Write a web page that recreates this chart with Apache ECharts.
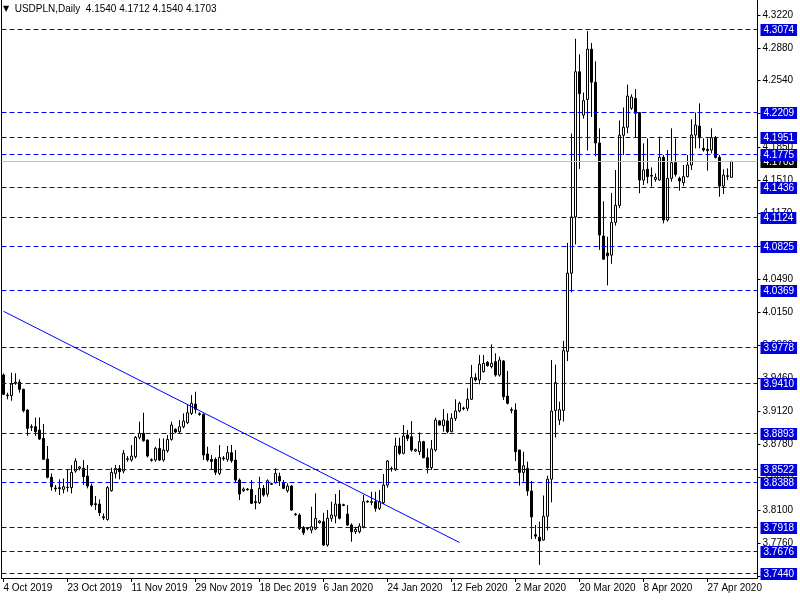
<!DOCTYPE html>
<html><head><meta charset="utf-8">
<script src="https://cdn.jsdelivr.net/npm/echarts@6/dist/echarts.min.js"></script>
<style>html,body{margin:0;padding:0;background:#fff}#c{width:800px;height:600px}</style>
</head><body><div id="c"></div>
<script>
// ---- data (daily bars incl. Sunday bars, 4 Oct 2019 .. 4 May 2020) ----
const opens = [
3.9496,3.9290,3.9282,3.9410,3.9423,3.9348,3.9134,3.8962,3.8962,3.8927,
3.8841,3.8627,3.8438,3.8327,3.8331,3.8314,3.8335,3.8331,3.8503,3.8530,
3.8531,3.8451,3.8348,3.8165,3.8162,3.8030,3.8003,3.8300,3.8479,3.8530,
3.8503,3.8630,3.8617,3.8651,3.8851,3.8893,3.8823,3.8620,3.8617,3.8737,
3.8617,3.8713,3.8830,3.8934,3.8910,3.8961,3.9003,3.9099,3.9196,3.9096,
3.9089,3.8679,3.8624,3.8624,3.8479,3.8637,3.8624,3.8693,3.8617,3.8410,
3.8300,3.8317,3.8313,3.8186,3.8176,3.8324,3.8265,3.8365,3.8382,3.8448,
3.8382,3.8300,3.8348,3.8058,3.8048,3.7920,3.7910,3.7893,3.7903,3.7969,
3.7979,3.7738,3.8014,3.8038,3.8162,3.8155,3.8058,3.7945,3.7876,3.7876,
3.7927,3.8190,3.8186,3.8186,3.8117,3.8176,3.8358,3.8530,3.8524,3.8762,
3.8686,3.8876,3.8858,3.8710,3.8703,3.8807,3.8641,3.8538,3.8721,3.9021,
3.8972,3.9021,3.8910,3.9048,3.9124,3.9155,3.9152,3.9245,3.9469,3.9445,
3.9531,3.9627,3.9583,3.9634,3.9496,3.9641,3.9279,3.9138,3.9134,3.8721,
3.8489,3.8530,3.8297,3.7845,3.7819,3.7790,3.8035,3.8419,3.9130,3.9030,
3.9130,3.9741,4.0549,4.1131,4.2632,4.2183,4.2345,4.2866,4.2524,4.1896,
4.0933,4.0757,4.0736,4.1074,4.1250,4.1975,4.2058,4.2255,4.2357,4.2209,
4.1512,4.1623,4.1560,4.1519,4.1513,4.1747,4.1099,4.1530,4.1692,4.1530,
4.1485,4.1547,4.1668,4.1978,4.2071,4.1840,4.1830,4.1823,4.1950,4.1747,
4.1450,4.1550,4.1540];
const closes = [
3.9296,3.9283,3.9403,3.9420,3.9348,3.9127,3.8944,3.8955,3.8910,3.8834,
3.8624,3.8438,3.8341,3.8320,3.8321,3.8341,3.8333,3.8489,3.8606,3.8545,
3.8445,3.8348,3.8152,3.8155,3.8072,3.8020,3.8331,3.8489,3.8530,3.8496,
3.8686,3.8624,3.8658,3.8851,3.8893,3.8817,3.8658,3.8614,3.8737,3.8617,
3.8720,3.8830,3.8979,3.8906,3.8961,3.9020,3.9106,3.9203,3.9141,3.9089,
3.8668,3.8617,3.8603,3.8490,3.8644,3.8630,3.8693,3.8610,3.8410,3.8265,
3.8317,3.8310,3.8169,3.8176,3.8324,3.8255,3.8403,3.8372,3.8479,3.8400,
3.8324,3.8348,3.8100,3.8052,3.7910,3.7865,3.7907,3.7927,3.8014,3.7986,
3.7738,3.8014,3.8048,3.8162,3.8014,3.8148,3.7945,3.7876,3.7900,3.7934,
3.8186,3.8183,3.8180,3.8117,3.8186,3.8358,3.8607,3.8524,3.8762,3.8686,
3.8865,3.8841,3.8720,3.8724,3.8807,3.8641,3.8538,3.8731,3.9031,3.8979,
3.9031,3.8910,3.9048,3.9124,3.9203,3.9149,3.9245,3.9469,3.9445,3.9607,
3.9617,3.9593,3.9617,3.9496,3.9651,3.9272,3.9203,3.9131,3.8703,3.8489,
3.8558,3.8297,3.8028,3.7830,3.7780,3.8035,3.8419,3.9123,3.9417,3.9137,
3.9748,4.0549,4.1131,4.2632,4.2406,4.2334,4.2866,4.2524,4.1896,4.0944,
4.0693,4.0729,4.1074,4.1250,4.1975,4.2058,4.2381,4.2370,4.2202,4.1512,
4.1616,4.1547,4.1553,4.1540,4.1747,4.1099,4.1530,4.1692,4.1571,4.1502,
4.1547,4.1668,4.1978,4.2081,4.1950,4.1823,4.1816,4.1950,4.1747,4.1450,
4.1564,4.1557,4.1703];
const lows = [
3.9289,3.9244,3.9230,3.9395,3.9313,3.9110,3.8868,3.8917,3.8868,3.8824,
3.8617,3.8427,3.8300,3.8289,3.8255,3.8272,3.8289,3.8272,3.8486,3.8510,
3.8358,3.8324,3.8134,3.8100,3.8038,3.7996,3.7990,3.8290,3.8427,3.8417,
3.8479,3.8600,3.8600,3.8634,3.8830,3.8806,3.8644,3.8600,3.8600,3.8606,
3.8600,3.8693,3.8817,3.8893,3.8893,3.8944,3.8989,3.9082,3.9099,3.9075,
3.8617,3.8600,3.8513,3.8462,3.8462,3.8610,3.8600,3.8589,3.8382,3.8203,
3.8286,3.8300,3.8162,3.8107,3.8162,3.8238,3.8238,3.8358,3.8375,3.8348,
3.8314,3.8279,3.8093,3.8040,3.7893,3.7841,3.7890,3.7859,3.7893,3.7960,
3.7728,3.7721,3.7979,3.7962,3.8003,3.8140,3.7934,3.7772,3.7852,3.7859,
3.7910,3.8176,3.8151,3.8083,3.8100,3.8162,3.8331,3.8497,3.8503,3.8669,
3.8676,3.8814,3.8703,3.8700,3.8669,3.8634,3.8479,3.8514,3.8703,3.8972,
3.8910,3.8893,3.8903,3.9021,3.9110,3.9131,3.9124,3.9238,3.9427,3.9400,
3.9521,3.9583,3.9565,3.9479,3.9479,3.9238,3.9193,3.9100,3.8607,3.8352,
3.8393,3.8248,3.7800,3.7801,3.7532,3.7783,3.7890,3.8179,3.8850,3.8980,
3.9015,3.9640,4.0351,4.0847,4.1627,4.2147,4.1817,4.2165,4.1759,4.0790,
4.0690,4.0423,4.0646,4.1041,4.1221,4.1770,4.1996,4.2237,4.1955,4.1375,
4.1461,4.1478,4.1444,4.1495,4.1506,4.1064,4.1082,4.1495,4.1547,4.1402,
4.1450,4.1540,4.1616,4.1840,4.1840,4.1806,4.1609,4.1788,4.1737,4.1340,
4.1368,4.1513,4.1540];
const highs = [
3.9513,3.9313,3.9520,3.9513,3.9451,3.9355,3.9141,3.8986,3.9055,3.9058,
3.8989,3.8762,3.8479,3.8358,3.8417,3.8427,3.8520,3.8565,3.8634,3.8555,
3.8617,3.8565,3.8375,3.8245,3.8210,3.8065,3.8348,3.8537,3.8565,3.8565,
3.8720,3.8658,3.8772,3.8865,3.9013,3.9106,3.8830,3.8634,3.8755,3.8841,
3.8841,3.8875,3.9013,3.8944,3.9030,3.9099,3.9185,3.9289,3.9323,3.9110,
3.9099,3.8755,3.8668,3.8644,3.8772,3.8658,3.8762,3.8772,3.8720,3.8427,
3.8334,3.8327,3.8410,3.8255,3.8444,3.8358,3.8417,3.8382,3.8531,3.8486,
3.8410,3.8375,3.8358,3.8070,3.8065,3.7934,3.7925,3.8134,3.8272,3.7995,
3.8072,3.8100,3.8186,3.8265,3.8307,3.8165,3.8151,3.7962,3.7927,3.7962,
3.8255,3.8200,3.8289,3.8289,3.8307,3.8472,3.8617,3.8548,3.8848,3.8848,
3.8979,3.8927,3.9020,3.8735,3.8903,3.8815,3.8738,3.8824,3.9055,3.9031,
3.9145,3.9100,3.9100,3.9245,3.9221,3.9169,3.9358,3.9600,3.9514,3.9703,
3.9703,3.9641,3.9813,3.9720,3.9686,3.9651,3.9538,3.9162,3.9203,3.8721,
3.8703,3.8600,3.8400,3.7945,3.7980,3.8250,3.8455,3.9651,3.9604,3.9220,
3.9849,4.0862,4.1993,4.2973,4.2812,4.2417,4.3052,4.2930,4.2740,4.2047,
4.1292,4.0926,4.1379,4.1616,4.2129,4.2262,4.2499,4.2399,4.2453,4.2215,
4.1892,4.1943,4.1643,4.1581,4.1961,4.1771,4.1823,4.2047,4.1943,4.1547,
4.1668,4.1771,4.2140,4.2209,4.2305,4.1943,4.1943,4.2047,4.1967,4.1771,
4.1623,4.1633,4.1712];

const tickLabels = ['4 Oct 2019','23 Oct 2019','11 Nov 2019','29 Nov 2019','18 Dec 2019','6 Jan 2020',
  '24 Jan 2020','12 Feb 2020','2 Mar 2020','20 Mar 2020','8 Apr 2020','27 Apr 2020'];
const priceTicks = [4.3220,4.2880,4.2540,4.2200,4.1850,4.1510,4.1170,4.0830,4.0490,4.0150,
  3.9800,3.9460,3.9120,3.8780,3.8440,3.8100,3.7760,3.7420];
const levels = [4.3074,4.2209,4.1951,4.1775,4.1436,4.1124,4.0825,4.0369,3.9778,3.9410,
  3.8893,3.8522,3.8388,3.7918,3.7676,3.7440];
const bidPrice = 4.1703;
const trendStart = [0, 4.0155];
const trendEnd = [114, 3.7764];
const symbolName = 'USDPLN,Daily';

// ---- chart ----
const N_CATS = 189;
const cats = Array.from({length: N_CATS}, (_, i) => String(i));
const candles = opens.map((o, i) => [o, closes[i], lows[i], highs[i]]);
const FONT = 'Liberation Sans, DejaVu Sans, sans-serif';
const YMIN = 3.7397, YMAX = 4.3374;

// horizontal levels: [x(unused), price, kind] ; kind 0 = dashed level, 1 = bid line
const levelRows = [[0, bidPrice, 1]].concat(levels.map(v => [0, v, 0]));

function renderLevel(params, api) {
  const v = api.value(1);
  const kind = api.value(2);
  const cs = params.coordSys;
  const y = Math.round(api.coord([0, v])[1] - 0.5) + 0.5;
  const isBid = kind === 1;
  return {
    type: 'group',
    children: [{
      type: 'line',
      shape: {x1: cs.x, y1: y, x2: cs.x + cs.width, y2: y},
      style: {stroke: isBid ? '#c0c0c0' : '#0000ff', lineWidth: 1, lineDash: isBid ? null : [5, 3]},
      z2: isBid ? 1 : 2
    }, {
      type: 'text',
      x: cs.x + cs.width + 3, y: Math.round(y),
      style: {
        text: v.toFixed(4), fill: '#fff', backgroundColor: isBid ? '#000' : '#0000dc',
        padding: [1, 3, 1, 3], font: '10px ' + FONT, align: 'left', verticalAlign: 'middle'
      },
      z2: isBid ? 10 : 11
    }]
  };
}

const last = candles.length - 1;
const headerText = '{t|\u25BC}  ' + symbolName + '  ' +
  [opens[last], highs[last], lows[last], closes[last]].map(v => v.toFixed(4)).join(' ');

const chart = echarts.init(document.getElementById('c'), null, {renderer: 'canvas'});
chart.setOption({
  animation: false,
  backgroundColor: '#fff',
  title: {
    text: headerText, left: 3, top: 4, padding: 0,
    textStyle: {fontSize: 10, fontWeight: 'normal', fontFamily: FONT, color: '#000',
      rich: {t: {fontSize: 8, fontFamily: 'DejaVu Sans', color: '#000'}}}
  },
  grid: {left: 1.5, right: 42.5, top: 0, bottom: 22, containLabel: false},
  xAxis: {
    type: 'category', data: cats, boundaryGap: true,
    axisLine: {show: true, lineStyle: {color: '#000', width: 1}},
    axisTick: {show: true, alignWithLabel: true, interval: 15, length: 4, lineStyle: {color: '#000'}},
    axisLabel: {
      interval: 15, align: 'left', margin: 5, fontSize: 10, fontFamily: FONT, color: '#000',
      formatter: (v, idx) => (idx % 16 === 0 && tickLabels[idx / 16]) ? tickLabels[idx / 16] : ''
    },
    splitLine: {show: false}
  },
  yAxis: [{
    type: 'value', position: 'right', min: YMIN, max: YMAX, scale: true,
    axisLine: {show: true, lineStyle: {color: '#000', width: 1}},
    axisTick: {show: true, length: 3, inside: false, customValues: priceTicks, lineStyle: {color: '#000'}},
    axisLabel: {show: true, margin: 5, fontSize: 10, fontFamily: FONT, color: '#000',
      customValues: priceTicks, formatter: v => Number(v).toFixed(4)},
    splitLine: {show: false}
  }, {
    type: 'value', position: 'left', min: YMIN, max: YMAX, scale: true,
    axisLine: {show: true, lineStyle: {color: '#000', width: 1}},
    axisTick: {show: false}, axisLabel: {show: false}, splitLine: {show: false}
  }],
  series: [{
    type: 'candlestick', data: candles, barWidth: 2, yAxisIndex: 0, z: 2,
    itemStyle: {color: '#fff', color0: '#000', borderColor: '#000', borderColor0: '#000', borderWidth: 1},
    markLine: {
      silent: true, symbol: ['none', 'none'], precision: 4, animation: false,
      data: [[
        {coord: [String(trendStart[0]), trendStart[1]], lineStyle: {color: '#0000ff', type: 'solid', width: 1}, label: {show: false}},
        {coord: [String(trendEnd[0]), trendEnd[1]]}
      ]]
    }
  }, {
    type: 'custom', data: levelRows, yAxisIndex: 0, z: 3, clip: false, silent: true,
    encode: {x: 0, y: 1}, renderItem: renderLevel
  }]
});
</script>
</body></html>
